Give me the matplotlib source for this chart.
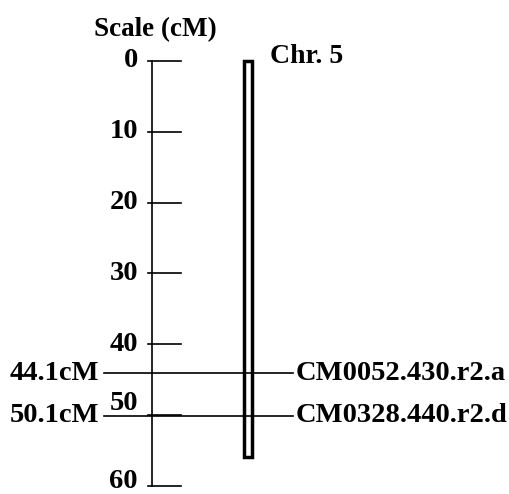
import matplotlib.pyplot as plt
from matplotlib.patches import Rectangle

plt.rcParams['font.family'] = ['Liberation Serif', 'DejaVu Serif']
plt.rcParams['font.weight'] = 'bold'

# Skala v cM a poloha chromozomu
tick_values = [0, 10, 20, 30, 40, 50, 60]
chrom_name = 'Chr. 5'
chrom_length = 55.9

# Markery na chromozomu
marker_pos = [44.1, 50.1]
marker_names = ['CM0052.430.r2.a', 'CM0328.440.r2.d']

fig = plt.figure(figsize=(5.09, 4.94), dpi=100)
ax = fig.add_axes([0, 0, 1, 1])
ax.set_xlim(0, 509)
ax.set_ylim(61.13, -8.61)
ax.axis('off')

fs = 20.5

# Měřítko vlevo
ax.plot([152, 152], [tick_values[0], tick_values[-1]], color='black', lw=1.2)
for t in tick_values:
    ax.plot([148, 181], [t, t], color='black', lw=1.2)
    # popisek 50 posunutý nahoru, aby nekolidoval s markerem
    dy = {50: -1.6, 60: -0.7}.get(t, 0)
    ax.text(138, t + dy, str(t), ha='right', va='center', fontsize=fs,
            fontweight='bold')
ax.text(155, -4.4, 'Scale (cM)', ha='center', va='center', fontsize=19.5,
        fontweight='bold')

# Chromozom
ax.add_patch(Rectangle((244, 0), 8, chrom_length, fill=False,
                       edgecolor='black', lw=2.5))
ax.text(270, -0.7, chrom_name, ha='left', va='center', fontsize=20,
        fontweight='bold')

# Markery
for pos, name in zip(marker_pos, marker_names):
    ax.plot([104, 293], [pos, pos], color='black', lw=1.2)
    ax.text(99, pos, f'{pos}cM', ha='right', va='center', fontsize=fs,
            fontweight='bold')
    ax.text(296, pos, name, ha='left', va='center', fontsize=fs,
            fontweight='bold')

fig.savefig('out.png', dpi=100, facecolor='white')
